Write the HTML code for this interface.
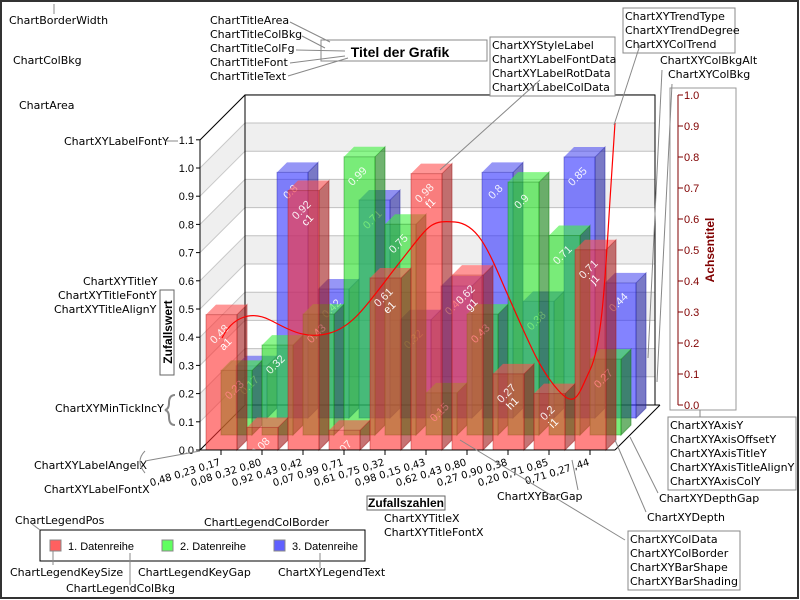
<!DOCTYPE html>
<html><head><meta charset="utf-8">
<style>
html,body{margin:0;padding:0;background:#fff;}
svg{display:block;font-family:"Liberation Sans",sans-serif;}
.a{font-size:11px;fill:#000;font-family:"DejaVu Sans","Liberation Sans",sans-serif;}
.t{font-size:11px;fill:#000;}
</style></head><body>
<svg id="s" width="800" height="600" viewBox="0 0 800 600" xmlns="http://www.w3.org/2000/svg">
<rect x="1" y="1" width="797" height="597" fill="#fff" stroke="#333" stroke-width="2"/>
<g id="bg"></g>
<g id="bars"></g>
<g id="fg"></g>
</svg>
<script>
const NS="http://www.w3.org/2000/svg";
function el(p,t,a,txt){const e=document.createElementNS(NS,t);for(const k in a)e.setAttribute(k,a[k]);if(txt!==undefined)e.textContent=txt;document.getElementById(p).appendChild(e);return e;}
for(let k=0;k<11;k++){const y1=405-28.2*(k+1),y0=405-28.2*k;
 if(k%2==1) el('bg','polygon',{points:`200,${y0+45} 245,${y0} 655,${y0} 655,${y1} 245,${y1} 200,${y1+45}`,fill:'#efefef'});}
for(let k=0;k<=11;k++){const y=405-28.2*k;
 el('bg','line',{x1:245,y1:y,x2:655,y2:y,stroke:'#c0c0c0'});
 el('bg','line',{x1:200,y1:y+45,x2:245,y2:y,stroke:'#c8c8c8'});}
el('bg','rect',{x:245,y:95,width:410,height:310,fill:'none',stroke:'#000'});
el('bg','line',{x1:200,y1:140,x2:245,y2:95,stroke:'#000'});
el('bg','line',{x1:200,y1:450,x2:245,y2:405,stroke:'#000'});
el('bg','line',{x1:615,y1:450,x2:660,y2:405,stroke:'#000'});
el('bg','line',{x1:655,y1:405,x2:660,y2:405,stroke:'#000'});
const R=[0.48,0.08,0.92,0.07,0.61,0.98,0.62,0.27,0.2,0.71];
const G=[0.23,0.32,0.43,0.99,0.75,0.15,0.43,0.90,0.71,0.27];
const B=[0.17,0.80,0.42,0.71,0.32,0.43,0.80,0.38,0.85,0.44];
const L=['a1','b1','c1','d1','e1','f1','g1','h1','i1','j1'];
function bar(x,base,h,c,cs,ct,lab,sub){const w=31,d=10,t=base-h;
 el('bars','polygon',{points:`${x+w},${t} ${x+w+d},${t-d} ${x+w+d},${base-d} ${x+w},${base}`,fill:cs,'fill-opacity':0.6,stroke:cs,'stroke-opacity':0.5});
 el('bars','polygon',{points:`${x},${t} ${x+d},${t-d} ${x+w+d},${t-d} ${x+w},${t}`,fill:ct,'fill-opacity':0.6});
 el('bars','rect',{x:x,y:t,width:w,height:h,fill:c,'fill-opacity':0.6,stroke:cs,'stroke-opacity':0.4});
 el('bars','text',{x:x+16,y:t+22,'font-size':11,fill:'#fff','fill-opacity':0.9,'text-anchor':'middle',transform:`rotate(-45 ${x+16} ${t+22})`},lab);
 if(sub) el('bars','text',{x:x+22,y:t+32,'font-size':11,fill:'#fff','text-anchor':'middle',transform:`rotate(-45 ${x+22} ${t+32})`},sub);
}
for(let i=0;i<10;i++){const x=206+41*i+30;bar(x,418,B[i]*307,'#3030ff','#2020a0','#5050f0',String(B[i]));}
for(let i=0;i<10;i++){const x=206+41*i+15;bar(x,435,G[i]*281,'#20e020','#108010','#40f040',String(G[i]));}
for(let i=0;i<10;i++){const x=206+41*i;bar(x,450,R[i]*282,'#ff3030','#a01818','#ff5050',String(R[i]),L[i]);}
el('fg','path',{d:'M222,338 C232,318 250,310 270,320 S305,340 330,333 S370,300 400,262 S430,220 455,222 S490,255 510,300 S540,370 558,390 S578,395 590,370 S605,280 610,200 L615,123',fill:'none',stroke:'#f00','stroke-width':1.2});
el('fg','line',{x1:200,y1:140,x2:200,y2:450,stroke:'#000'});
el('fg','line',{x1:200,y1:450,x2:615,y2:450,stroke:'#000'});
for(let k=0;k<=11;k++){const y=450-28.2*k;
 el('fg','line',{x1:196,y1:y,x2:200,y2:y,stroke:'#000'});
 el('fg','text',{x:194,y:y+4,class:'t','text-anchor':'end',fill:'#000'},(k/10).toFixed(1));}
const XL=['0,48 0,23 0,17','0,08 0,32 0,80','0,92 0,43 0,42','0,07 0,99 0,71','0,61 0,75 0,32','0,98 0,15 0,43','0,62 0,43 0,80','0,27 0,90 0,38','0,20 0,71 0,85','0,71 0,27 ,44'];
for(let i=0;i<10;i++){const x=221+41*i;el('fg','line',{x1:x,y1:450,x2:x,y2:455,stroke:'#000'});
 const y=465, xx=x;
 el('fg','text',{x:xx,y:y,'font-size':10,fill:'#000','font-family':'"DejaVu Sans",sans-serif','text-anchor':'end',transform:`rotate(-17 ${xx} ${y})`},XL[i]);}
el('fg','rect',{x:670,y:88,width:66,height:322,fill:'#fff',stroke:'#999'});
el('fg','line',{x1:678,y1:95,x2:678,y2:405,stroke:'#800000'});
for(let k=0;k<=10;k++){const y=405-31*k;el('fg','line',{x1:678,y1:y,x2:683,y2:y,stroke:'#800000'});
 el('fg','text',{x:684,y:y+4,'font-size':11,fill:'#800000'},(k/10).toFixed(1));}
el('fg','text',{x:714,y:250,'font-size':12,'font-weight':'bold',fill:'#800000','text-anchor':'middle',transform:'rotate(-90 714 250)'},'Achsentitel');
el('fg','rect',{x:160,y:290,width:14,height:85,fill:'#fff',stroke:'#666'});
el('fg','text',{x:172,y:332,'font-size':12,'font-weight':'bold','text-anchor':'middle',transform:'rotate(-90 172 332)'},'Zufallswert');
el('fg','rect',{x:367,y:496,width:78,height:14,fill:'#fff',stroke:'#666'});
el('fg','text',{x:406,y:507,'font-size':12,'font-weight':'bold','text-anchor':'middle'},'Zufallszahlen');
el('fg','rect',{x:321,y:40,width:166,height:21,fill:'#fff',stroke:'#888'});
el('fg','text',{x:400,y:57,'font-size':14,'font-weight':'bold','text-anchor':'middle'},'Titel der Grafik');
el('fg','rect',{x:40,y:530,width:325,height:31,fill:'#fff',stroke:'#000'});
[['#ff6060',50,68,'1. Datenreihe'],['#60ff60',162,180,'2. Datenreihe'],['#6060ff',274,292,'3. Datenreihe']].forEach(a=>{
 el('fg','rect',{x:a[1],y:540,width:11,height:11,fill:a[0],stroke:'#888'});
 el('fg','text',{x:a[2],y:550,'font-size':11},a[3]);});
function box(x,y,w,lines){el('fg','rect',{x:x,y:y,width:w,height:lines.length*14+3,fill:'#fff',stroke:'#888'});
 lines.forEach((s,i)=>el('fg','text',{x:x+2,y:y+12+i*14,class:'a'},s));}
box(490,37,125,['ChartXYStyleLabel','ChartXYLabelFontData','ChartXYLabelRotData','ChartXYLabelColData']);
box(623,8,112,['ChartXYTrendType','ChartXYTrendDegree','ChartXYColTrend']);
box(668,417,128,['ChartXYAxisY','ChartXYAxisOffsetY','ChartXYAxisTitleY','ChartXYAxisTitleAlignY','ChartXYAxisColY']);
box(628,531,112,['ChartXYColData','ChartXYColBorder','ChartXYBarShape','ChartXYBarShading']);
const T=[[9,24,'ChartBorderWidth'],[13,64,'ChartColBkg'],[19,109,'ChartArea'],[210,24,'ChartTitleArea'],[210,38,'ChartTitleColBkg'],[210,52,'ChartTitleColFg'],[210,66,'ChartTitleFont'],[210,80,'ChartTitleText'],
[64,145,'ChartXYLabelFontY'],[83,285,'ChartXYTitleY'],[58,299,'ChartXYTitleFontY'],[54,313,'ChartXYTitleAlignY'],[55,412,'ChartXYMinTickIncY'],
[34,469,'ChartXYLabelAngelX'],[44,493,'ChartXYLabelFontX'],[384,522,'ChartXYTitleX'],[384,536,'ChartXYTitleFontX'],[497,500,'ChartXYBarGap'],
[15,524,'ChartLegendPos'],[204,526,'ChartLegendColBorder'],[10,576,'ChartLegendKeySize'],[66,592,'ChartLegendColBkg'],[138,576,'ChartLegendKeyGap'],[278,576,'ChartXYLegendText'],
[660,64,'ChartXYColBkgAlt'],[668,78,'ChartXYColBkg'],[659,502,'ChartXYDepthGap'],[647,521,'ChartXYDepth']];
T.forEach(a=>el('fg','text',{x:a[0],y:a[1],class:'a'},a[2]));
const Ls=[[54,4,54,14],[290,22,330,42],[302,36,325,48],[296,50,345,51],[290,63,345,56],[288,76,348,58],[165,141,178,141],[540,80,440,170],[640,45,614,125],
[662,70,648,358],[672,84,657,382],[700,410,700,417],[572,460,578,490],[630,437,658,493],[615,440,646,512],[460,440,625,540],[145,461,200,451],[40,530,32,524],[236,530,236,528],[53,551,53,565],[130,553,130,585],[320,553,320,568]];
Ls.forEach(a=>el('fg','line',{x1:a[0],y1:a[1],x2:a[2],y2:a[3],stroke:'#888'}));
el('fg','path',{d:'M175,395 q-6,0 -6,8 q0,6 -4,7 q4,1 4,7 q0,8 6,8',fill:'none',stroke:'#888','stroke-width':2});
el('fg','path',{d:'M145,451 q-10,10 0,22',fill:'none',stroke:'#888'});
</script>
</body></html>
